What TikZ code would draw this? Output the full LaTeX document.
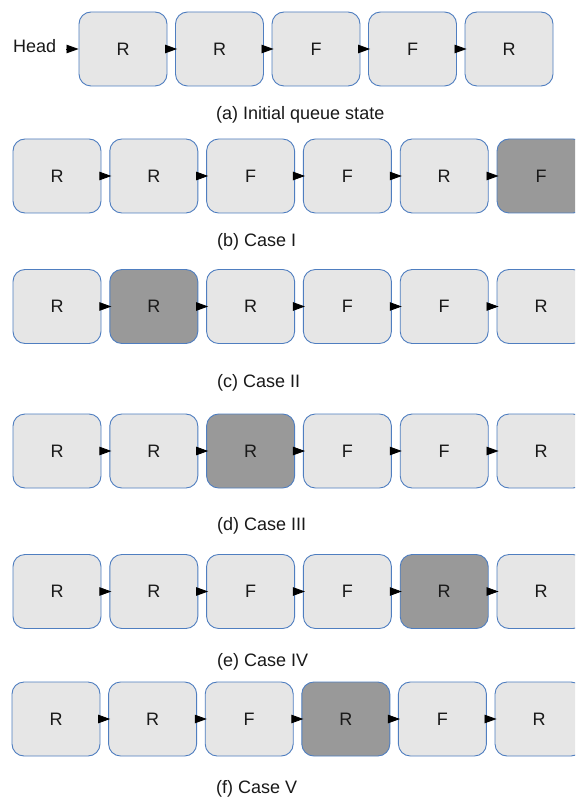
\documentclass[tikz,border=0pt]{standalone}
\usepackage{fontspec}
\setmainfont{Liberation Sans}
\usetikzlibrary{arrows.meta}
\definecolor{boxline}{HTML}{4F7EC0}
\definecolor{boxfill}{HTML}{E6E6E6}
\definecolor{boxdark}{HTML}{999999}
\tikzset{
  qbox/.style={rectangle, draw=boxline, line width=0.9pt, rounded corners=12pt,
    minimum width=88pt, minimum height=74pt, inner sep=0pt, fill=boxfill,
    font=\fontsize{18}{22}\selectfont, text=black!90},
  nb/.style={qbox},
  hb/.style={qbox, fill=boxdark},
  arr/.style={line width=0.8pt, shorten >=-2pt, -{Triangle[length=12pt,width=8.5pt]}},
  captext/.style={anchor=base west, inner sep=0pt, font=\fontsize{18}{22}\selectfont, text=black!90}
}
\begin{document}
\begin{tikzpicture}[x=1pt,y=-1pt]
\useasboundingbox (0,0) rectangle (575,799);
\clip (0,0) rectangle (575,799);
\fill[white] (0,0) rectangle (575,799);
% (a)
\node[captext] (head) at (13,53) {Head};
\foreach \lab/\st [count=\i] in {R/nb,R/nb,F/nb,F/nb,R/nb}
  \node[\st] (a\i) at ({123+(\i-1)*96.5},49) {\lab};
\coordinate (hs) at ([xshift=10pt]head.east |- a1.west);
\draw[arr, shorten >=0pt] (hs) -- (a1.west);
\foreach \i [evaluate=\i as \j using int(\i+1)] in {1,...,4}
  \draw[arr] (a\i) -- (a\j);
\node[captext] (capa) at (216,120) {(a) Initial queue state};
% (b)
\foreach \lab/\st [count=\i] in {R/nb,R/nb,F/nb,F/nb,R/nb,F/hb}
  \node[\st] (b\i) at ({57+(\i-1)*96.8},176) {\lab};
\foreach \i [evaluate=\i as \j using int(\i+1)] in {1,...,5}
  \draw[arr] (b\i) -- (b\j);
\node[captext] (capb) at (217,247) {(b) Case I};
% (c)
\foreach \lab/\st [count=\i] in {R/nb,R/hb,R/nb,F/nb,F/nb,R/nb}
  \node[\st] (c\i) at ({57+(\i-1)*96.8},306.5) {\lab};
\foreach \i [evaluate=\i as \j using int(\i+1)] in {1,...,5}
  \draw[arr] (c\i) -- (c\j);
\node[captext] (capc) at (217,387) {(c) Case II};
% (d)
\foreach \lab/\st [count=\i] in {R/nb,R/nb,R/hb,F/nb,F/nb,R/nb}
  \node[\st] (d\i) at ({57+(\i-1)*96.8},451) {\lab};
\foreach \i [evaluate=\i as \j using int(\i+1)] in {1,...,5}
  \draw[arr] (d\i) -- (d\j);
\node[captext] (capd) at (217,530) {(d) Case III};
% (e)
\foreach \lab/\st [count=\i] in {R/nb,R/nb,F/nb,F/nb,R/hb,R/nb}
  \node[\st] (e\i) at ({57+(\i-1)*96.8},591.5) {\lab};
\foreach \i [evaluate=\i as \j using int(\i+1)] in {1,...,5}
  \draw[arr] (e\i) -- (e\j);
\node[captext] (cape) at (217,666) {(e) Case IV};
% (f)
\foreach \lab/\st [count=\i] in {R/nb,R/nb,F/nb,R/hb,F/nb,R/nb}
  \node[\st] (f\i) at ({56+(\i-1)*96.6},719) {\lab};
\foreach \i [evaluate=\i as \j using int(\i+1)] in {1,...,5}
  \draw[arr] (f\i) -- (f\j);
\node[captext] (capf) at (216,793) {(f) Case V};
\end{tikzpicture}
\end{document}
